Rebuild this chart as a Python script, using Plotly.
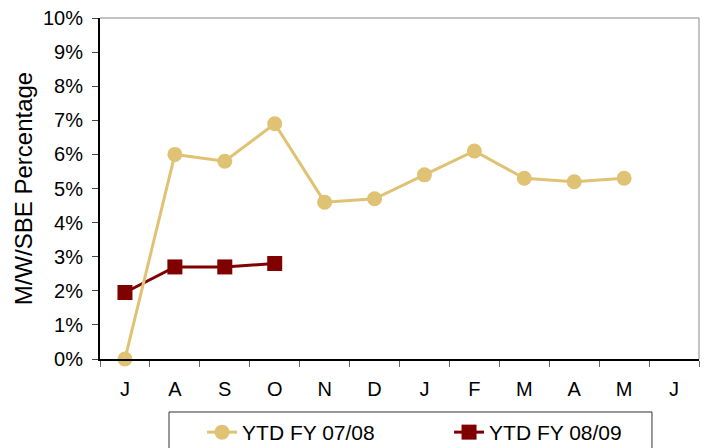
import plotly.graph_objects as go

# Fiscal-year months (July through June)
months = ["J", "A", "S", "O", "N", "D", "J", "F", "M", "A", "M", "J"]

# M/W/SBE participation, percent
ytd_fy_0708 = [0.0, 6.0, 5.8, 6.9, 4.6, 4.7, 5.4, 6.1, 5.3, 5.2, 5.3]
ytd_fy_0809 = [1.95, 2.7, 2.7, 2.8]

series_names = ["YTD FY 07/08", "YTD FY 08/09"]
series_colors = ["#E0C274", "#800000"]

FONT = "Liberation Sans, Arial, sans-serif"

positions = list(range(len(months)))

fig = go.Figure()

fig.add_trace(go.Scatter(
    x=positions[:len(ytd_fy_0809)], y=ytd_fy_0809,
    name=series_names[1], legendrank=2,
    mode="lines+markers",
    line=dict(color=series_colors[1], width=3),
    marker=dict(symbol="square", size=15, color=series_colors[1]),
    cliponaxis=False,
))

fig.add_trace(go.Scatter(
    x=positions[:len(ytd_fy_0708)], y=ytd_fy_0708,
    name=series_names[0], legendrank=1,
    mode="lines+markers",
    line=dict(color=series_colors[0], width=3),
    marker=dict(symbol="circle", size=15, color=series_colors[0]),
    cliponaxis=False,
))

fig.update_layout(
    width=704, height=448,
    margin=dict(l=100, r=5, t=18, b=89, autoexpand=False),
    paper_bgcolor="white", plot_bgcolor="white",
    font=dict(family=FONT, size=20, color="black"),
    showlegend=True,
    legend=dict(
        orientation="h",
        xref="container", yref="container",
        x=0.287, xanchor="left",
        y=0.0804, yanchor="top",
        borderwidth=0, bgcolor="rgba(0,0,0,0)",
        font=dict(size=21),
        entrywidth=202, entrywidthmode="pixels",
        traceorder="normal",
    ),
    shapes=[
        # top and right frame of the plot area
        dict(type="line", xref="paper", yref="paper", x0=0, x1=1, y0=1, y1=1,
             line=dict(color="#888888", width=1)),
        dict(type="line", xref="paper", yref="paper", x0=1, x1=1, y0=0, y1=1,
             line=dict(color="#888888", width=1)),
        # legend frame
        dict(type="rect", xref="paper", yref="paper",
             x0=0.1152, x1=0.9215, y0=-0.1554, y1=-0.35,
             line=dict(color="#333333", width=1), fillcolor="rgba(0,0,0,0)"),
    ],
)

fig.update_xaxes(
    range=[-0.5, len(months) - 0.5],
    tickmode="array", tickvals=positions, ticktext=months,
    ticks="", showgrid=False, zeroline=False,
    showline=True, linecolor="black", linewidth=2,
    ticklabelstandoff=11,
    minor=dict(tick0=-0.5, dtick=1, ticks="outside", ticklen=6,
               tickcolor="#666666", tickwidth=1, showgrid=False),
)

fig.update_yaxes(
    range=[0, 10], dtick=1, ticksuffix="%",
    ticks="outside", ticklen=6, tickcolor="#444444",
    showgrid=False, zeroline=False,
    showline=True, linecolor="black", linewidth=2,
    ticklabelstandoff=5,
    title=dict(text="M/W/SBE Percentage", standoff=4),
)

fig.write_html("out.html")
